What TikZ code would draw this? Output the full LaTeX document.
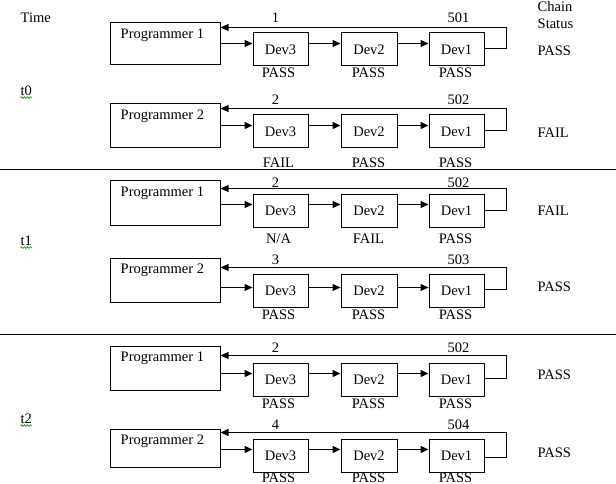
\documentclass[tikz,border=0pt]{standalone}
\usepackage{fontspec}
\setmainfont{Liberation Serif}
\usetikzlibrary{arrows.meta,decorations.pathmorphing}
\begin{document}
\begin{tikzpicture}[x=1pt,y=-1pt,
  every node/.style={font=\fontsize{14.5}{17}\selectfont},
  progbox/.style={draw,line width=1pt,anchor=north west,minimum width=110pt,inner sep=0pt},
  devbox/.style={draw,line width=1pt,anchor=north west,minimum height=33pt,inner sep=0pt},
  conn/.style={line width=1pt,-{Triangle[length=8pt,width=7pt]}},
  lbl/.style={inner sep=0pt},
  wavy/.style={draw=green!55!black,line width=0.6pt,decorate,decoration={snake,amplitude=0.9pt,segment length=3pt}}]
\useasboundingbox (0,0) rectangle (616,484);
\fill[white] (0,0) rectangle (616,484);
\begin{scope}[shift={(0.5,0.5)}]
% header
\node[lbl,anchor=west] (time) at (20,17) {Time};
\node[lbl,anchor=west] (chain) at (537,6) {Chain};
\node[lbl,anchor=west] (status) at (537,23) {Status};
% time labels
\node[lbl,anchor=west] (t0) at (20,90) {t0};
\node[lbl,anchor=west] (t1) at (20,240) {t1};
\node[lbl,anchor=west] (t2) at (20,418) {t2};
\foreach \t in {t0,t1,t2}{
  \draw[wavy] ([yshift=-2pt]\t.south west) -- ([yshift=-2pt]\t.south east);
}
% dividers
\coordinate (dl1) at (-1,169); \coordinate (dr1) at (616,169);
\coordinate (dl2) at (-1,334); \coordinate (dr2) at (616,334);
\draw[line width=1pt] (dl1) -- (dr1);
\draw[line width=1pt] (dl2) -- (dr2);
\def\NA{N/A}
\foreach \i/\pt/\ph/\dt/\fb/\ar/\ex/\nu/\bl/\sy/\pn/\nl/\nr/\la/\lb/\lc/\st in {
 1/22/42/32/27/43/48/17/72/50/1/1/501/PASS/PASS/PASS/PASS,
 2/103/44/114/108/125/130/99/162/132/2/2/502/FAIL/PASS/PASS/FAIL,
 3/180/44/193/188/204/210/182/238/210/1/2/502/\NA/FAIL/PASS/FAIL,
 4/257/44/273/267/287/289/259/314/286/2/3/503/PASS/PASS/PASS/PASS,
 5/345/44/362/355/373/378/347/403/374/1/2/502/PASS/PASS/PASS/PASS,
 6/428/38/438/432/449/457/424/477/452/2/4/504/PASS/PASS/PASS/PASS}{
  \node[progbox,minimum height=\ph pt] (p\i) at (109,\pt) {};
  \node[lbl,anchor=west] (pl\i) at (120,\pt+13) {Programmer \pn};
  \node[devbox,minimum width=55pt] (da\i) at (252,\dt) {Dev3};
  \node[devbox,minimum width=56pt] (db\i) at (340,\dt) {Dev2};
  \node[devbox,minimum width=55pt] (dc\i) at (428,\dt) {Dev1};
  \coordinate (ar\i) at (0,\ar);
  \coordinate (ex\i) at (506,\ex);
  \coordinate (fb\i) at (506,\fb);
  \draw[conn] (p\i.east |- ar\i) -- (da\i.west |- ar\i);
  \draw[conn] (da\i.east |- ar\i) -- (db\i.west |- ar\i);
  \draw[conn] (db\i.east |- ar\i) -- (dc\i.west |- ar\i);
  \draw[conn] (dc\i.east |- ex\i) -- (ex\i) -- (fb\i) -- (p\i.east |- fb\i);
  \node[lbl] (nl\i) at (275,\nu) {\nl};
  \node[lbl] (nr\i) at (458,\nu) {\nr};
  \node[lbl] (sa\i) at (278,\bl) {\la};
  \node[lbl] (sb\i) at (368,\bl) {\lb};
  \node[lbl] (sc\i) at (455,\bl) {\lc};
  \node[lbl,anchor=west] (st\i) at (537,\sy) {\st};
}
\end{scope}
\end{tikzpicture}
\end{document}
